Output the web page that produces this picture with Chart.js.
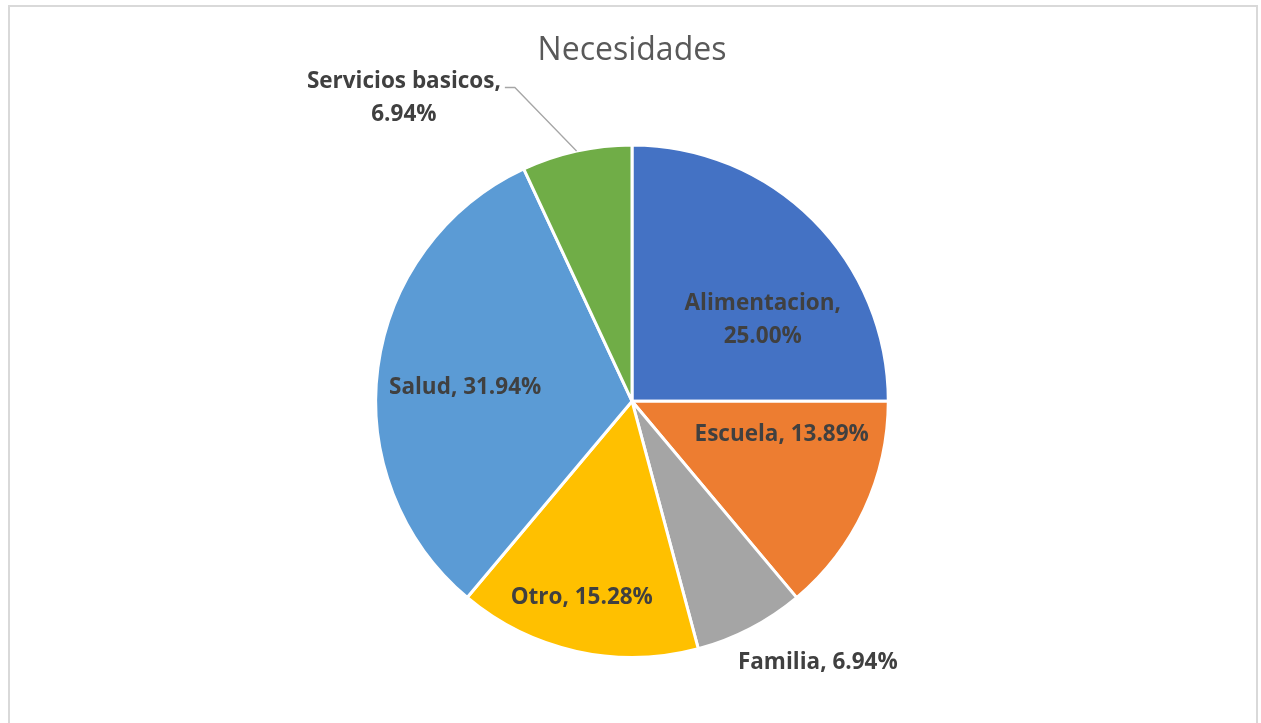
<!DOCTYPE html>
<html>
<head>
<meta charset="utf-8">
<script src="https://cdn.jsdelivr.net/npm/chart.js@4"></script>
<style>
  html, body { margin: 0; padding: 0; background: #fff; overflow: hidden; }
  #marco { position: absolute; left: 8px; top: 5px; width: 1246px; height: 740px; border: 2px solid #d9d9d9; }
  #wrap { position: absolute; left: 0; top: 0; width: 1261px; height: 723px; }
</style>
</head>
<body>
<div id="marco"></div>
<div id="wrap"><canvas id="chartNecesidades"></canvas></div>
<script>
// datos
const categorias = ["Alimentacion", "Escuela", "Familia", "Otro", "Salud", "Servicios basicos"];
const porcentajes = [25.00, 13.89, 6.94, 15.28, 31.94, 6.94];
const colores = ["#4472C4", "#ED7D31", "#A5A5A5", "#FFC000", "#5B9BD5", "#70AD47"];

// posicion de cada etiqueta (en radios, relativo al centro) y si lleva dos lineas
const etiquetas = [
  { dx: 0.51, dy: -0.32, dosLineas: true },
  { dx: 0.584, dy: 0.129 },
  { dx: 0.725, dy: 1.02 },
  { dx: -0.196, dy: 0.765 },
  { dx: -0.651, dy: -0.055 },
  { dx: -0.89, dy: -1.185, dosLineas: true, guia: true }
];

const etiquetasPlugin = {
  id: "etiquetas",
  afterDatasetsDraw(chart) {
    const ctx = chart.ctx;
    const arcs = chart.getDatasetMeta(0).data;
    ctx.save();
    ctx.font = "bold 22.5px 'Open Sans', Lato, sans-serif";
    ctx.fillStyle = "#404040";
    ctx.textAlign = "center";
    ctx.textBaseline = "middle";
    arcs.forEach((arc, i) => {
      const e = etiquetas[i];
      const r = arc.outerRadius;
      const x = arc.x + e.dx * r, y = arc.y + e.dy * r;
      const txt = categorias[i] + ",";
      const pct = porcentajes[i].toFixed(2) + "%";
      if (e.dosLineas) {
        ctx.fillText(txt, x, y - 16);
        ctx.fillText(pct, x, y + 17);
      } else {
        ctx.fillText(txt + " " + pct, x, y);
      }
      if (e.guia) {
        const mid = (arc.startAngle + arc.endAngle) / 2;
        const w = ctx.measureText(txt).width;
        const x0 = x + w / 2 + 4, y0 = y - 10;
        ctx.beginPath();
        ctx.strokeStyle = "#a6a6a6";
        ctx.lineWidth = 1.3;
        ctx.moveTo(x0, y0);
        ctx.lineTo(x0 + 10, y0);
        ctx.lineTo(arc.x + Math.cos(mid) * r, arc.y + Math.sin(mid) * r);
        ctx.stroke();
      }
    });
    ctx.restore();
  }
};

const ctx = document.getElementById("chartNecesidades").getContext("2d");
new Chart(ctx, {
  type: "pie",
  data: {
    labels: categorias,
    datasets: [{
      data: porcentajes,
      backgroundColor: colores,
      borderColor: "#ffffff",
      borderWidth: 3
    }]
  },
  options: {
    responsive: true,
    maintainAspectRatio: false,
    animation: false,
    layout: { padding: { left: 3, right: 0, top: 0, bottom: 64 } },
    plugins: {
      legend: { display: false },
      tooltip: { enabled: false },
      title: {
        display: true,
        text: "Necesidades",
        color: "#595959",
        font: { family: "'Open Sans', Lato, sans-serif", size: 32, weight: "normal" },
        padding: { top: 32, bottom: 73 }
      }
    }
  },
  plugins: [etiquetasPlugin]
});
</script>
</body>
</html>
